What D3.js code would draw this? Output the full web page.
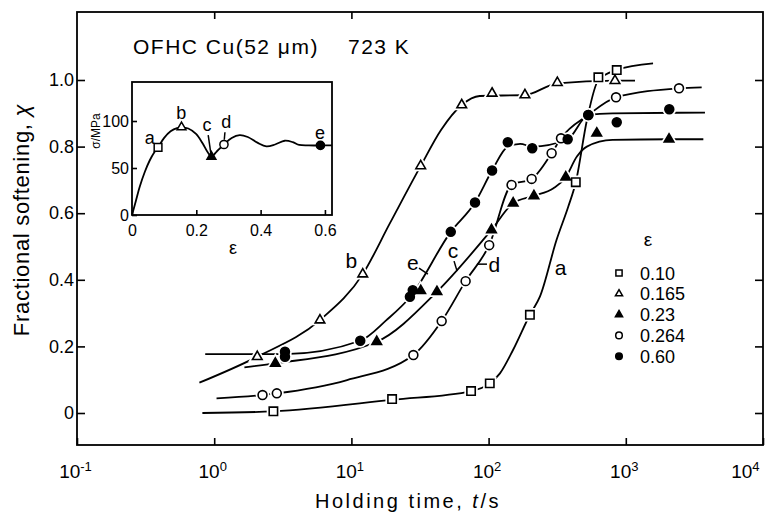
<!DOCTYPE html>
<html>
<head>
<meta charset="utf-8">
<script src="https://cdn.jsdelivr.net/npm/d3@7"></script>
<style>
  html, body { margin: 0; padding: 0; background: #fff; }
  svg { display: block; }
</style>
</head>
<body>
<div id="grafico"></div>
<script>
// ---- Dados (t em s, fração amaciada X) ----
const strainLabels = ["0.10", "0.165", "0.23", "0.264", "0.60"];
const decades = [0.1, 1, 10, 100, 1000, 10000];
const yTicks = [0, 0.2, 0.4, 0.6, 0.8, 1.0];

// curvas desenhadas (linhas)
const curveA = [[0.82, 0.0], [2.7, 0.005], [20, 0.04], [75, 0.066], [102, 0.089], [121, 0.119], [151, 0.19], [200, 0.295], [237, 0.35], [313, 0.52], [381, 0.62], [432, 0.693], [521, 0.88], [631, 1.0], [859, 1.03], [1580, 1.05]];
const curveB = [[0.78, 0.091], [2.06, 0.169], [5.9, 0.279], [12.1, 0.417], [19.1, 0.57], [32, 0.742], [45, 0.85], [63.7, 0.925], [86, 0.952], [184, 0.955], [317, 0.99], [834, 0.998], [1167, 0.998]];
const curveC = [[1.66, 0.137], [2.79, 0.149], [15.3, 0.214], [42, 0.364], [105, 0.55], [151, 0.63], [214, 0.652], [297, 0.675], [365, 0.708], [440, 0.77], [520, 0.80], [800, 0.82], [2065, 0.822], [3674, 0.822]];
const curveD = [[1.04, 0.044], [2.25, 0.054], [2.86, 0.059], [9.3, 0.099], [28.3, 0.174], [45.5, 0.276], [68, 0.396], [101, 0.504], [147, 0.685], [206, 0.703], [288, 0.78], [337, 0.825], [533, 0.895], [849, 0.948], [2443, 0.975], [3573, 0.978]];
const curveE = [[0.86, 0.177], [3.28, 0.177], [11.6, 0.217], [18, 0.279], [27, 0.35], [53, 0.544], [79.6, 0.632], [106, 0.728], [138, 0.80], [170, 0.808], [208, 0.80], [377, 0.822], [533, 0.895], [800, 0.90], [3776, 0.902]];

// pontos medidos
const pointsA = [[2.7, 0.005], [19.8, 0.042], [74.5, 0.066], [102, 0.089], [200, 0.295], [432, 0.693], [631, 1.008], [859, 1.03]];
const pointsB = [[2.06, 0.169], [5.9, 0.279], [12.1, 0.417], [32, 0.742], [63.7, 0.925], [106, 0.96], [184, 0.955], [317, 0.992], [834, 0.998]];
const pointsC = [[2.79, 0.149], [15.3, 0.214], [32, 0.367], [42, 0.364], [105, 0.55], [151, 0.63], [214, 0.652], [365, 0.708], [614, 0.84], [2065, 0.822]];
const pointsD = [[2.25, 0.054], [2.86, 0.059], [28.3, 0.174], [45.5, 0.276], [68, 0.396], [101, 0.504], [147, 0.685], [206, 0.703], [288, 0.78], [337, 0.825], [533, 0.895], [849, 0.948], [2443, 0.975]];
const pointsE = [[3.28, 0.184], [3.28, 0.169], [11.6, 0.217], [26.7, 0.349], [28, 0.369], [53, 0.544], [79.6, 0.632], [106, 0.728], [138, 0.813], [208, 0.795], [377, 0.822], [533, 0.895], [859, 0.873], [2075, 0.912]];

// rótulos das curvas (t, X da linha de base) e traços de ligação
const curveLabels = [["a", 335, 0.414], ["b", 10, 0.435], ["c", 55, 0.465], ["d", 110, 0.424], ["e", 28.1, 0.43]];
const leaders = [[[31.1, 0.435], [36.1, 0.417]], [[56, 0.456], [58.9, 0.426]], [[97.3, 0.447], [82.2, 0.447]]];

// ---- Inserto: curva tensão-deformação ----
const insetCurve = [[0, 0], [0.012, 15], [0.024, 30], [0.04, 46], [0.055, 58], [0.07, 67], [0.081, 72], [0.1, 82], [0.12, 89], [0.14, 92.5], [0.155, 93], [0.175, 92], [0.2, 86], [0.22, 76], [0.235, 67], [0.247, 62], [0.262, 67], [0.286, 75], [0.31, 82], [0.335, 85], [0.36, 83], [0.39, 77], [0.418, 73], [0.445, 75], [0.475, 79], [0.5, 77.5], [0.52, 74.5], [0.55, 74], [0.6, 74], [0.622, 74]];
const insetPoints = [[0.081, 72], [0.154, 93.5], [0.247, 62], [0.286, 75], [0.586, 74]];
const insetLabels = [["a", 0.055, 76], ["b", 0.153, 102], ["c", 0.233, 89], ["d", 0.293, 93], ["e", 0.585, 81]];
const insetLeaders = [[[0.237, 85], [0.245, 66]], [[0.289, 88], [0.287, 80]]];
const insetXTicks = [0, 0.2, 0.4, 0.6];
const insetYTicks = [0, 50, 100];

const FONT = '"Liberation Sans", Arial, sans-serif';
const W = 766, H = 517;
const frame = { left: 77, right: 763, top: 12, bottom: 445 };

const svg = d3.select("#grafico").append("svg")
    .attr("width", W).attr("height", H)
    .attr("font-family", FONT);

// Escalas
const x = d3.scaleLog().domain([0.1, 1e4]).range([frame.left, frame.right]);
const y = d3.scaleLinear().domain([0, 1]).range([413, 80]);

// Moldura
svg.append("rect")
    .attr("x", frame.left).attr("y", frame.top)
    .attr("width", frame.right - frame.left).attr("height", frame.bottom - frame.top)
    .attr("fill", "none").attr("stroke", "#000").attr("stroke-width", 1.8);

const estiloEixo = g => {
    g.attr("font-family", FONT).attr("font-size", 18);
    g.select(".domain").remove();
    g.selectAll(".tick line").attr("stroke-width", 1.6);
    g.selectAll(".tick text").attr("fill", "#000");
};

// Eixo X (com expoentes)
svg.append("g")
    .attr("transform", `translate(0,${frame.bottom})`)
    .call(d3.axisBottom(x).tickValues(decades).tickSize(-7).tickPadding(20))
    .call(estiloEixo)
    .attr("font-size", 19)
    .selectAll(".tick text")
    .each(function (d) {
        const t = d3.select(this).text(null);
        if (d === 1e4) t.attr("text-anchor", "end").attr("x", -4);
        else t.attr("x", -2);
        t.append("tspan").text("10");
        t.append("tspan").attr("dy", "-0.55em").attr("font-size", 13).text(Math.round(Math.log10(d)));
    });

svg.append("g")
    .attr("transform", `translate(0,${frame.top})`)
    .call(d3.axisTop(x).tickValues(decades.slice(1, -1)).tickSize(-7).tickFormat(""))
    .call(estiloEixo);

// Eixo Y
svg.append("g")
    .attr("transform", `translate(${frame.left},0)`)
    .call(d3.axisLeft(y).tickValues(yTicks).tickSize(-8).tickPadding(3)
        .tickFormat(d => d === 0 ? "0" : d3.format(".1f")(d)))
    .call(estiloEixo);

svg.append("g")
    .attr("transform", `translate(${frame.right},0)`)
    .call(d3.axisRight(y).tickValues(yTicks).tickSize(-8).tickFormat(""))
    .call(estiloEixo);

// Títulos dos eixos
const xt = svg.append("text")
    .attr("x", 408).attr("y", 508)
    .attr("text-anchor", "middle").attr("font-size", 20)
    .attr("letter-spacing", 2.5);
xt.append("tspan").text("Holding time, ");
xt.append("tspan").attr("font-style", "italic").text("t");
xt.append("tspan").text("/s");

const yt = svg.append("text")
    .attr("transform", "translate(29,220) rotate(-90)")
    .attr("text-anchor", "middle").attr("font-size", 22)
    .attr("letter-spacing", 0.7);
yt.append("tspan").text("Fractional softening, ");
yt.append("tspan").attr("font-style", "italic").text("χ");

// Curvas
const linha = d3.line()
    .x(d => x(d[0])).y(d => y(d[1]))
    .curve(d3.curveMonotoneX);

const series = [
    { curva: curveA, pontos: pointsA, tipo: d3.symbolSquare, tam: 70, cheio: false },
    { curva: curveB, pontos: pointsB, tipo: d3.symbolTriangle, tam: 40, cheio: false },
    { curva: curveC, pontos: pointsC, tipo: d3.symbolTriangle, tam: 40, cheio: true },
    { curva: curveD, pontos: pointsD, tipo: d3.symbolCircle, tam: 62, cheio: false },
    { curva: curveE, pontos: pointsE, tipo: d3.symbolCircle, tam: 62, cheio: true }
];

series.forEach(s => {
    svg.append("path")
        .datum(s.curva)
        .attr("d", linha)
        .attr("fill", "none").attr("stroke", "#000").attr("stroke-width", 1.8);
});

// Marcadores (com halo branco para interromper as linhas)
series.forEach(s => {
    svg.append("g").selectAll("path")
        .data(s.pontos).enter().append("path")
        .attr("transform", d => `translate(${x(d[0])},${y(d[1])})`)
        .attr("d", d3.symbol().type(s.tipo).size(s.tam))
        .attr("fill", "#fff").attr("stroke", "#fff").attr("stroke-width", 5);
});
series.forEach(s => {
    svg.append("g").selectAll("path")
        .data(s.pontos).enter().append("path")
        .attr("transform", d => `translate(${x(d[0])},${y(d[1])})`)
        .attr("d", d3.symbol().type(s.tipo).size(s.tam))
        .attr("fill", s.cheio ? "#000" : "#fff")
        .attr("stroke", "#000").attr("stroke-width", 1.6);
});

// Rótulos das curvas
svg.selectAll("text.rotulo")
    .data(curveLabels).enter().append("text")
    .attr("class", "rotulo")
    .attr("x", d => x(d[1])).attr("y", d => y(d[2]))
    .attr("text-anchor", "middle").attr("font-size", 21)
    .text(d => d[0]);

svg.selectAll("line.ligacao")
    .data(leaders).enter().append("line")
    .attr("x1", d => x(d[0][0])).attr("y1", d => y(d[0][1]))
    .attr("x2", d => x(d[1][0])).attr("y2", d => y(d[1][1]))
    .attr("stroke", "#000").attr("stroke-width", 1.5);

// Legenda
const leg = svg.append("g");
leg.append("text").attr("x", 648).attr("y", 246)
    .attr("text-anchor", "middle").attr("font-size", 19).text("ε");
series.forEach((s, i) => {
    const ly = 273 + i * 20.8;
    leg.append("path")
        .attr("transform", `translate(619,${ly})`)
        .attr("d", d3.symbol().type(s.tipo).size(s.tam * 0.55))
        .attr("fill", s.cheio ? "#000" : "#fff")
        .attr("stroke", "#000").attr("stroke-width", 1.5);
    leg.append("text").attr("x", 640).attr("y", ly + 6.5)
        .attr("font-size", 18).text(strainLabels[i]);
});

// Título
svg.append("text")
    .attr("x", 133).attr("y", 54)
    .attr("font-size", 21).attr("letter-spacing", 1.5)
    .text("OFHC Cu(52 μm)");
svg.append("text")
    .attr("x", 348).attr("y", 54)
    .attr("font-size", 21).attr("letter-spacing", 1.5)
    .text("723 K");

// ---- Inserto ----
const ix = d3.scaleLinear().domain([0, 0.622]).range([132, 332]);
const iy = d3.scaleLinear().domain([0, 141.5]).range([215, 82]);

svg.append("rect")
    .attr("x", 132).attr("y", 82).attr("width", 200).attr("height", 133)
    .attr("fill", "#fff").attr("stroke", "#000").attr("stroke-width", 1.8);

svg.append("g")
    .attr("transform", "translate(0,215)")
    .call(d3.axisBottom(ix).tickValues(insetXTicks).tickSize(-5).tickPadding(10)
        .tickFormat(d => d === 0 ? "0" : d3.format(".1f")(d)))
    .call(estiloEixo)
    .attr("font-size", 16);

svg.append("g")
    .attr("transform", "translate(132,0)")
    .call(d3.axisLeft(iy).tickValues(insetYTicks).tickSize(-5).tickPadding(3))
    .call(estiloEixo)
    .attr("font-size", 16);

svg.append("text").attr("x", 233).attr("y", 254)
    .attr("text-anchor", "middle").attr("font-size", 18).text("ε");
svg.append("text")
    .attr("transform", "translate(100,131) rotate(-90)")
    .attr("text-anchor", "middle").attr("font-size", 12).text("σ/MPa");

svg.append("path")
    .datum(insetCurve)
    .attr("d", d3.line().x(d => ix(d[0])).y(d => iy(d[1])).curve(d3.curveCatmullRom))
    .attr("fill", "none").attr("stroke", "#000").attr("stroke-width", 1.8);

svg.selectAll("path.insetPt")
    .data(insetPoints).enter().append("path")
    .attr("transform", d => `translate(${ix(d[0])},${iy(d[1])})`)
    .attr("d", (d, i) => d3.symbol().type(series[i].tipo).size(series[i].tam * 0.85)())
    .attr("fill", (d, i) => series[i].cheio ? "#000" : "#fff")
    .attr("stroke", "#000").attr("stroke-width", 1.5);

svg.selectAll("text.insetLab")
    .data(insetLabels).enter().append("text")
    .attr("x", d => ix(d[1])).attr("y", d => iy(d[2]))
    .attr("text-anchor", "middle").attr("font-size", 18)
    .text(d => d[0]);

svg.selectAll("line.insetLig")
    .data(insetLeaders).enter().append("line")
    .attr("x1", d => ix(d[0][0])).attr("y1", d => iy(d[0][1]))
    .attr("x2", d => ix(d[1][0])).attr("y2", d => iy(d[1][1]))
    .attr("stroke", "#000").attr("stroke-width", 1.5);
</script>
</body>
</html>
